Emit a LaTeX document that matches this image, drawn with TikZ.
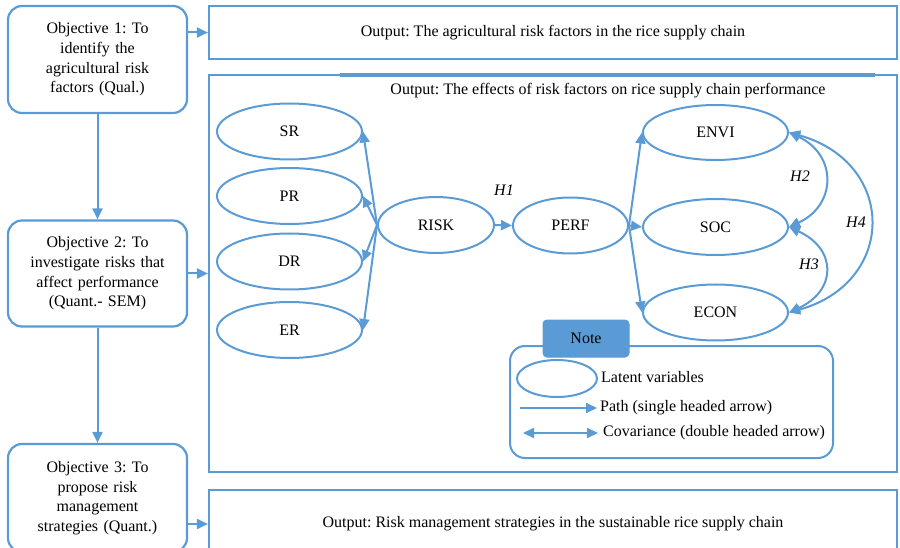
\documentclass[tikz,border=0pt]{standalone}
\usepackage{fontspec}
\setmainfont{Liberation Serif}
\usetikzlibrary{arrows.meta,shapes.geometric}
\definecolor{lineblue}{HTML}{5B9BD5}
\frenchspacing
\begin{document}
\begin{tikzpicture}[x=1pt,y=-1pt,
  font=\fontsize{16}{19.6}\selectfont,
  objbox/.style={draw=lineblue, line width=2.2pt, rounded corners=14pt,
    minimum width=179, text width=170, align=center, inner sep=0pt},
  outbox/.style={draw=lineblue, line width=2.2pt, minimum width=688, inner sep=0pt},
  latent/.style={ellipse, draw=lineblue, line width=2pt, inner sep=0pt,
    minimum width=145, minimum height=56},
  patharrow/.style={draw=lineblue, line width=2pt,
    -{Triangle[length=11pt,width=10pt]}},
  covarrow/.style={draw=lineblue, line width=2pt,
    {Triangle[length=11pt,width=10pt]}-{Triangle[length=11pt,width=10pt]}},
  hyp/.style={font=\fontsize{16}{19.6}\selectfont\itshape},
  legendtext/.style={anchor=west, inner sep=0pt}]
\useasboundingbox (0,0) rectangle (900,548);
\clip (0,0) rectangle (900,548);

% research objectives
\node[objbox, minimum height=107] (obj1) at (97.5,59.5)
  {Objective 1: To\\identify the\\agricultural risk\\factors (Qual.)};
\node[objbox, minimum height=106] (obj2) at (97.5,273.5)
  {Objective 2: To\\investigate risks that\\affect performance\\(Quant.- SEM)};
\node[objbox, minimum height=108] (obj3) at (97.5,498)
  {Objective 3: To\\propose risk\\management\\strategies (Quant.)};

% outputs
\node[outbox, minimum height=53] (out1) at (553,32.5)
  {Output: The agricultural risk factors in the rice supply chain};
\node[outbox, minimum height=397] (out2) at (553,273.5) {};
\draw[lineblue, line width=3.2pt] (340,75) -- (875,75);
\node (out2title) at (608,91)
  {Output: The effects of risk factors on rice supply chain performance};
\node[outbox, minimum height=68] (out3) at (553,524)
  {Output: Risk management strategies in the sustainable rice supply chain};

% flow between objectives and outputs
\draw[patharrow] (obj1.south) -- (obj2.north);
\draw[patharrow] (obj2.south) -- (obj3.north);
\draw[patharrow] (obj1.east |- out1.west) -- (out1.west);
\draw[patharrow] (obj2.east) -- (obj2.east -| out2.west);
\draw[patharrow] (obj3.east |- out3.west) -- (out3.west);

% structural model
\node[latent] (sr) at (289.5,131.5) {SR};
\node[latent] (pr) at (289.5,196) {PR};
\node[latent] (dr) at (289.5,261.5) {DR};
\node[latent] (er) at (289.5,330) {ER};
\node[latent, minimum width=116] (risk) at (436,225) {RISK};
\node[latent, minimum width=115] (perf) at (570.5,225.5) {PERF};
\node[latent, minimum height=55] (envi) at (715.5,132.5) {ENVI};
\node[latent] (soc) at (715.5,227) {SOC};
\node[latent] (econ) at (715.5,312.5) {ECON};

\draw[patharrow] (risk.west) -- (sr.east);
\draw[patharrow] (risk.west) -- (pr.east);
\draw[patharrow] (risk.west) -- (dr.east);
\draw[patharrow] (risk.west) -- (er.east);
\draw[patharrow] (risk.east) -- (perf.west);
\node[hyp] (h1) at (504,190) {H1};
\draw[patharrow] (perf.east) -- (envi.west);
\draw[patharrow] (perf.east) -- (soc.west);
\draw[patharrow] (perf.east) -- (econ.west);

\draw[covarrow] (envi.east) .. controls +(48,22) and +(48,-22) .. (soc.east);
\draw[covarrow] (soc.east) .. controls +(48,22) and +(48,-22) .. (econ.east);
\draw[covarrow] (envi.east) .. controls +(108,30) and +(108,-30) .. (econ.east);
\node[hyp] (h2) at (800,176) {H2};
\node[hyp] (h3) at (809,264) {H3};
\node[hyp] (h4) at (856,222) {H4};

% legend
\node[draw=lineblue, line width=2pt, rounded corners=15pt,
  minimum width=323, minimum height=112] (notebox) at (671.5,402) {};
\node[draw=lineblue, fill=lineblue, line width=1pt, rounded corners=4pt,
  minimum width=86, minimum height=37] (notetab) at (586,338.5) {Note};
\node[latent, minimum width=80, minimum height=37] (legell) at (557,378.5) {};
\node[legendtext] (legl) at (601,377) {Latent variables};
\coordinate (pa) at (520,408);
\coordinate (pb) at (597,408);
\draw[patharrow] (pa) -- (pb);
\node[legendtext] (legp) at (600,408) {Path (single headed arrow)};
\coordinate (ca) at (523,433);
\coordinate (cb) at (598,433);
\draw[covarrow] (ca) -- (cb);
\node[legendtext] (legc) at (603,433) {Covariance (double headed arrow)};
\end{tikzpicture}
\end{document}
